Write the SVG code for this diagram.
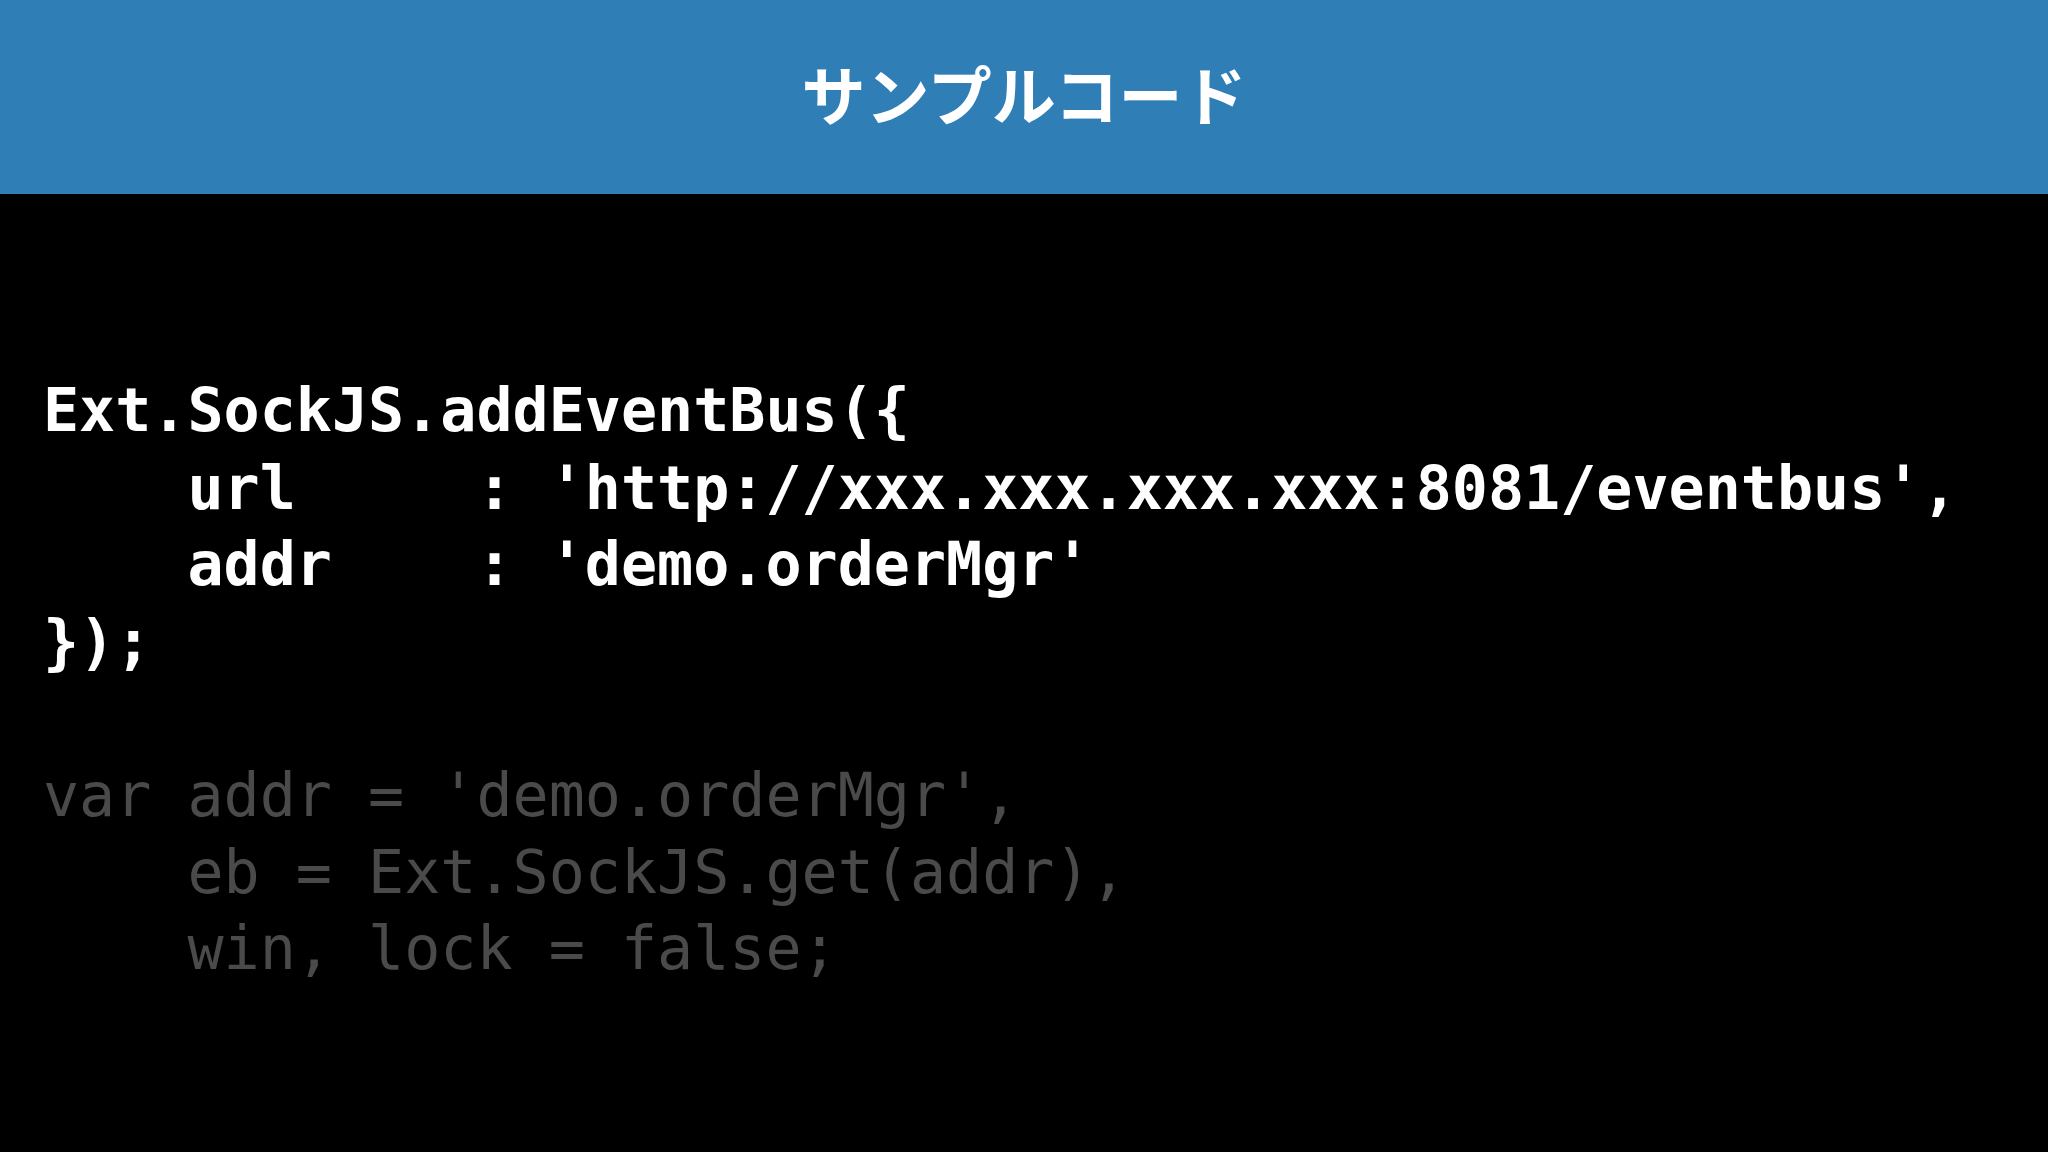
<svg xmlns="http://www.w3.org/2000/svg" width="2048" height="1152" viewBox="0 0 2048 1152">
<style>
.c{font-family:"DejaVu Sans Mono","Liberation Mono",monospace;font-size:60px;white-space:pre}
.w{fill:#ffffff;font-weight:bold}
.g{fill:#4a4a4a}
</style>
<rect width="2048" height="1152" fill="#000"/>
<g id="header">
<rect width="2048" height="194" fill="#2f7fb6"/>
<text x="1024" y="120" text-anchor="middle" font-family="Noto Sans CJK JP, sans-serif" font-weight="bold" font-size="64" fill="#fff">サンプルコード</text>
</g>
<g id="code1">
<text class="c w" x="43" y="431">Ext.SockJS.addEventBus({</text>
<text class="c w" x="43" y="509">    url     : 'http://xxx.xxx.xxx.xxx:8081/eventbus',</text>
<text class="c w" x="43" y="585">    addr    : 'demo.orderMgr'</text>
<text class="c w" x="43" y="663">});</text>
</g>
<g id="code2">
<text class="c g" x="43" y="816">var addr = 'demo.orderMgr',</text>
<text class="c g" x="43" y="893">    eb = Ext.SockJS.get(addr),</text>
<text class="c g" x="43" y="969">    win, lock = false;</text>
</g>
</svg>
